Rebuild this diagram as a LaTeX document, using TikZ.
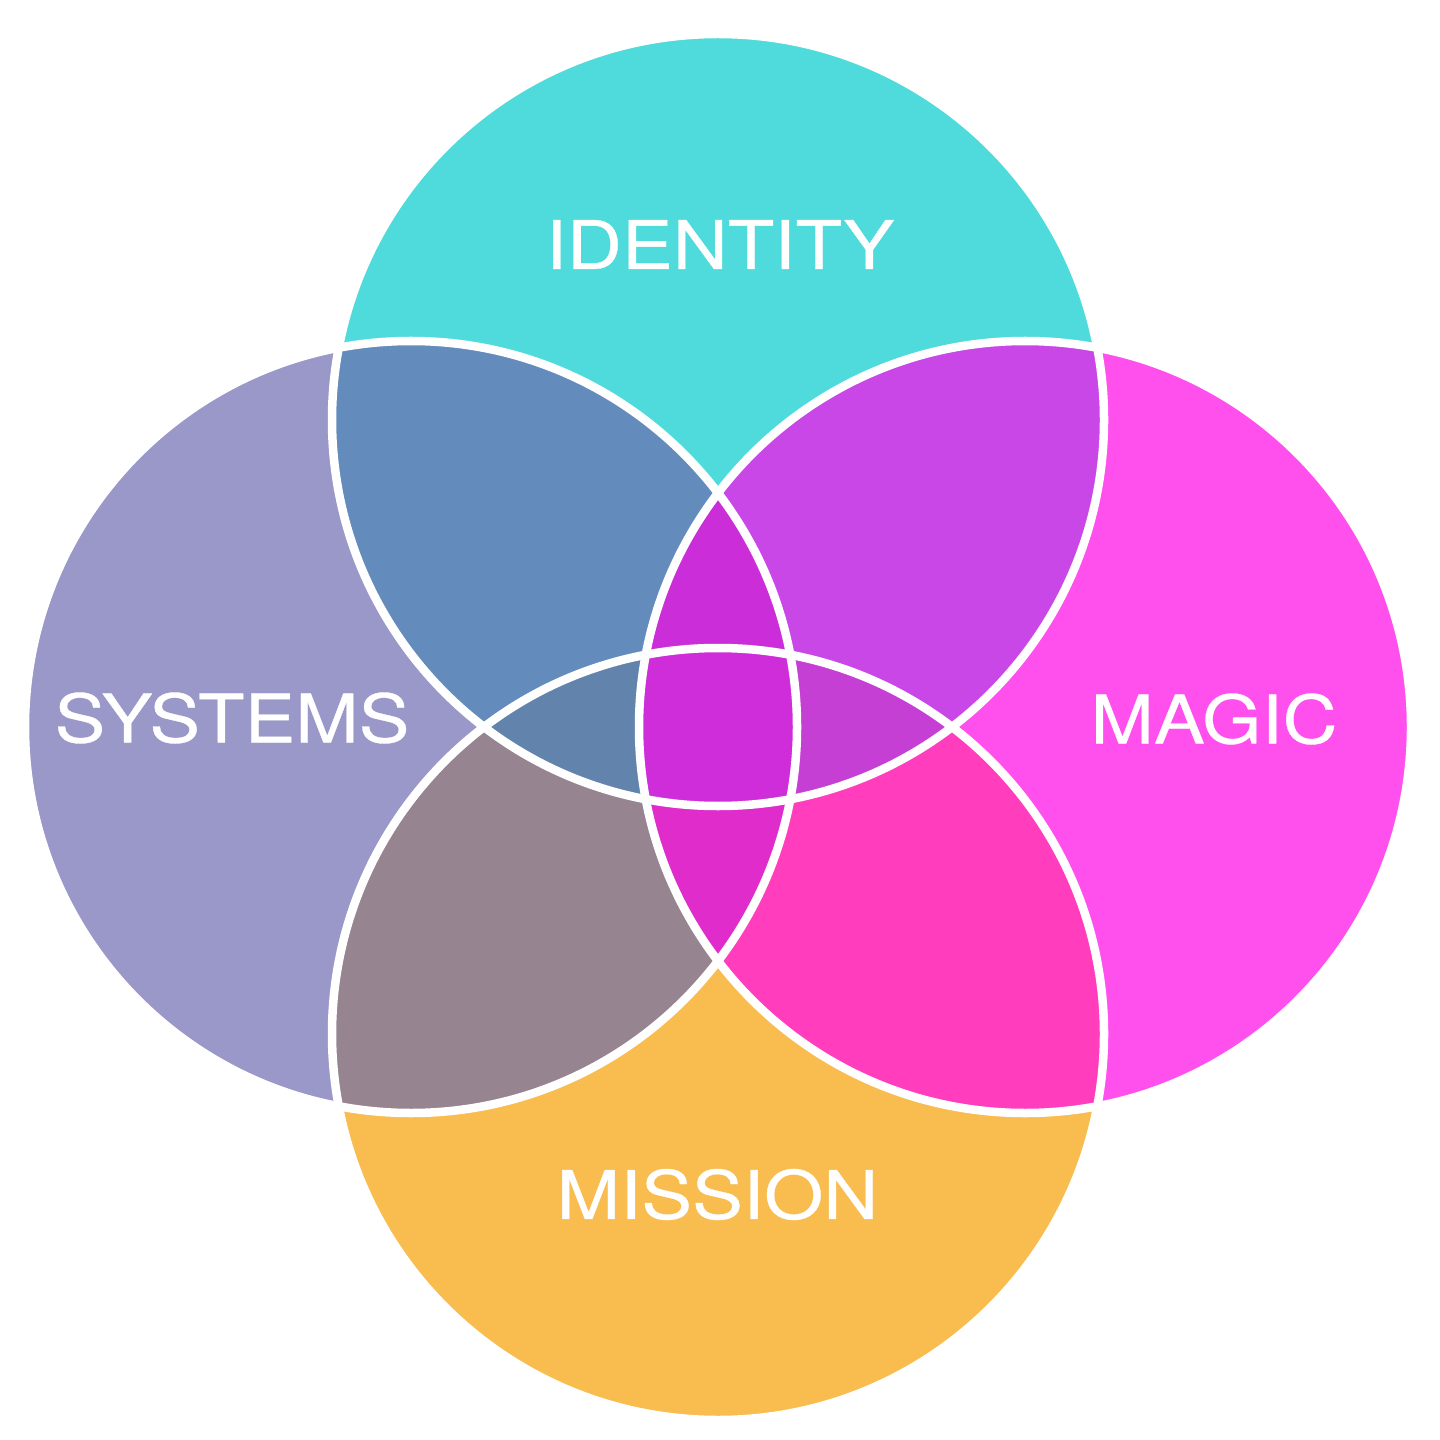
\documentclass[tikz,border=0pt]{standalone}
\usepackage{fontspec}
\setmainfont{TeX Gyre Heros}[FakeStretch=1.14,FakeBold=0.5]
\providecommand{\Identity}{4FDBDB}
\providecommand{\Systems}{9A97C9}
\providecommand{\Magic}{FF50EE}
\providecommand{\Mission}{F9BC4F}
\newcommand{\Unit}{0.01cm}
\newcommand{\Rad}{386}
\newcommand{\Edge}{0.085cm}
\definecolor{identity}{HTML}{\Identity}
\definecolor{systems}{HTML}{\Systems}
\definecolor{magic}{HTML}{\Magic}
\definecolor{mission}{HTML}{\Mission}
\definecolor{topleft}{HTML}{638BBC}
\definecolor{topright}{HTML}{C847E6}
\definecolor{botleft}{HTML}{968490}
\definecolor{botright}{HTML}{FF3DBD}
\definecolor{tripleft}{HTML}{6284AC}
\definecolor{tripright}{HTML}{C63FD4}
\definecolor{triptop}{HTML}{CB2ED9}
\definecolor{tripbot}{HTML}{DF2CCB}
\definecolor{core}{HTML}{CE2DD9}

\begin{document}
\begin{tikzpicture}[x=\Unit,y=-\Unit, line join=round, line cap=round,
  word/.style={text=white, font=\fontsize{19}{19}\selectfont, inner sep=0pt}]

  \useasboundingbox (0,0) rectangle (1440,1440);

  \coordinate (top) at (718,420);
  \coordinate (left) at (411,727);
  \coordinate (right) at (1025,727);
  \coordinate (bottom) at (718,1034);

  % ---- the four circles ---------------------------------------------------
  \fill[identity] (top) circle (\Rad);
  \fill[mission] (bottom) circle (\Rad);
  \fill[systems] (left) circle (\Rad);
  \fill[magic] (right) circle (\Rad);

  % ---- pairs of neighbours ------------------------------------------------
  \foreach \a/\b/\col in {top/left/topleft, top/right/topright,
                          bottom/left/botleft, bottom/right/botright} {
    \begin{scope}
      \clip (\a) circle (\Rad);
      \fill[\col] (\b) circle (\Rad);
    \end{scope}
  }

  % ---- threes -------------------------------------------------------------
  \foreach \a/\b/\c/\col in {top/bottom/left/tripleft, top/bottom/right/tripright,
                             left/right/top/triptop, left/right/bottom/tripbot} {
    \begin{scope}
      \clip (\a) circle (\Rad);
      \clip (\b) circle (\Rad);
      \fill[\col] (\c) circle (\Rad);
    \end{scope}
  }

  % ---- all four -----------------------------------------------------------
  \begin{scope}
    \clip (top) circle (\Rad);
    \clip (bottom) circle (\Rad);
    \clip (left) circle (\Rad);
    \fill[core] (right) circle (\Rad);
  \end{scope}

  % ---- white rims ---------------------------------------------------------
  \foreach \p in {top,left,right,bottom} {
    \draw[white,line width=\Edge] (\p) circle (\Rad);
  }

  % ---- words --------------------------------------------------------------
  \node[word] (identitytext) at (720,244.5) {IDENTITY};
  \node[word] (systemstext) at (232,718) {SYSTEMS};
  \node[word] (magictext) at (1214,719) {MAGIC};
  \node[word] (missiontext) at (717.5,1194.5) {MISSION};

\end{tikzpicture}
\end{document}
